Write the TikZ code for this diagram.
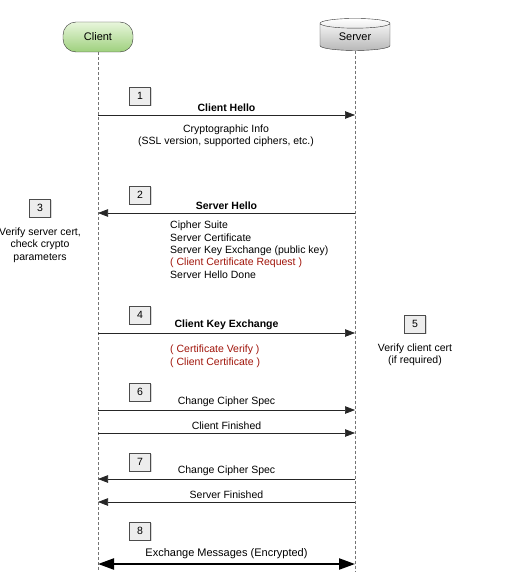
\documentclass[tikz,border=0pt]{standalone}
\usepackage{fontspec}
\setmainfont{Liberation Sans}
\usetikzlibrary{shapes.geometric,arrows.meta,shadows}
\definecolor{darkred}{RGB}{160,20,10}
\definecolor{gtop}{RGB}{232,246,220}
\definecolor{gbot}{RGB}{158,208,125}
\begin{document}
\begin{tikzpicture}[x=1pt,y=-1pt,
  every node/.style={font=\fontsize{10.5}{12}\selectfont},
  numbox/.style={draw=black!70,fill=black!7,minimum width=21pt,minimum height=18pt,inner sep=0pt,drop shadow={shadow xshift=1pt,shadow yshift=-1pt,opacity=0.3}},
  lifeline/.style={draw=black!55,dash pattern=on 3pt off 2pt,line width=0.8pt},
  msg/.style={draw=black!85,line width=0.7pt,-{Triangle[length=10pt,width=7.5pt]}},
  lbl/.style={inner sep=1pt},
  bold/.style={font=\fontsize{10.5}{12}\selectfont\bfseries},
  note/.style={align=left,anchor=north west,inner sep=0pt,font=\fontsize{10.5}{12.3}\selectfont},
  ctext/.style={align=center,font=\fontsize{10.5}{12.3}\selectfont},
]
\useasboundingbox (0,0) rectangle (514,583);
% actors
\node[draw=black!80,rounded corners=13pt,minimum width=70pt,minimum height=30pt,
  top color=gtop,bottom color=gbot,font=\fontsize{11}{13}\selectfont] (client) at (98,37) {Client};
\node[cylinder,shape border rotate=90,aspect=0.3,draw=black!80,minimum width=70pt,minimum height=32pt,
  top color=white,bottom color=black!28,inner sep=0pt,font=\fontsize{11}{13}\selectfont] (server) at (355,37) {\raisebox{-3pt}{Server}};
% lifelines
\coordinate (cend) at (98,572);
\coordinate (send) at (355,572);
\path[lifeline] (client.south) -- (cend);
\path[lifeline] (server.south) -- (send);
% anchor coordinates on lifelines
\foreach \n/\y in {a1/115,a2/213,a4/333,a6/410,a6b/433,a7/479,a7b/502,a8/564}{
  \coordinate (c\n) at (98,\y);
  \coordinate (s\n) at (355,\y);
}
% 1
\node[numbox] (n1) at (140,96) {1};
\draw[msg] (ca1) -- node[lbl,above=2pt,bold] (l1) {Client Hello} (sa1);
\node[ctext] (t1) at (226,136) {Cryptographic Info\\(SSL version, supported ciphers, etc.)};
% 2
\node[numbox] (n2) at (140,195) {2};
\draw[msg] (sa2) -- node[lbl,above=2pt,bold] (l2) {Server Hello} (ca2);
\node[note] (t2) at (170,221) {Cipher Suite\\Server Certificate\\Server Key Exchange (public key)\\\textcolor{darkred}{( Client Certificate Request )}\\Server Hello Done};
% 3
\node[numbox] (n3) at (40,208) {3};
\node[ctext] (t3) at (40,245) {Verify server cert,\\check crypto\\parameters};
% 4
\node[numbox] (n4) at (140,315) {4};
\draw[msg] (ca4) -- node[lbl,above=2pt,bold] (l4) {Client Key Exchange} (sa4);
\node[note,text=darkred] (t4) at (170,345) {( Certificate Verify )\\( Client Certificate )};
% 5
\node[numbox] (n5) at (415,324) {5};
\node[ctext] (t5) at (415,355) {Verify client cert\\(if required)};
% 6
\node[numbox] (n6) at (140,392) {6};
\draw[msg] (ca6) -- node[lbl,above=2pt] (l6) {Change Cipher Spec} (sa6);
\draw[msg] (ca6b) -- node[lbl,above=2pt] (l6b) {Client Finished} (sa6b);
% 7
\node[numbox] (n7) at (140,462) {7};
\draw[msg] (sa7) -- node[lbl,above=2pt] (l7) {Change Cipher Spec} (ca7);
\draw[msg] (sa7b) -- node[lbl,above=2pt] (l7b) {Server Finished} (ca7b);
% 8
\node[numbox] (n8) at (140,531) {8};
\draw[draw=black,line width=2.2pt,{Triangle[length=16pt,width=11pt]}-{Triangle[length=16pt,width=11pt]}] (ca8) -- node[lbl,above=3pt,font=\fontsize{11}{13}\selectfont] (l8) {Exchange Messages (Encrypted)} (sa8);
\end{tikzpicture}
\end{document}
